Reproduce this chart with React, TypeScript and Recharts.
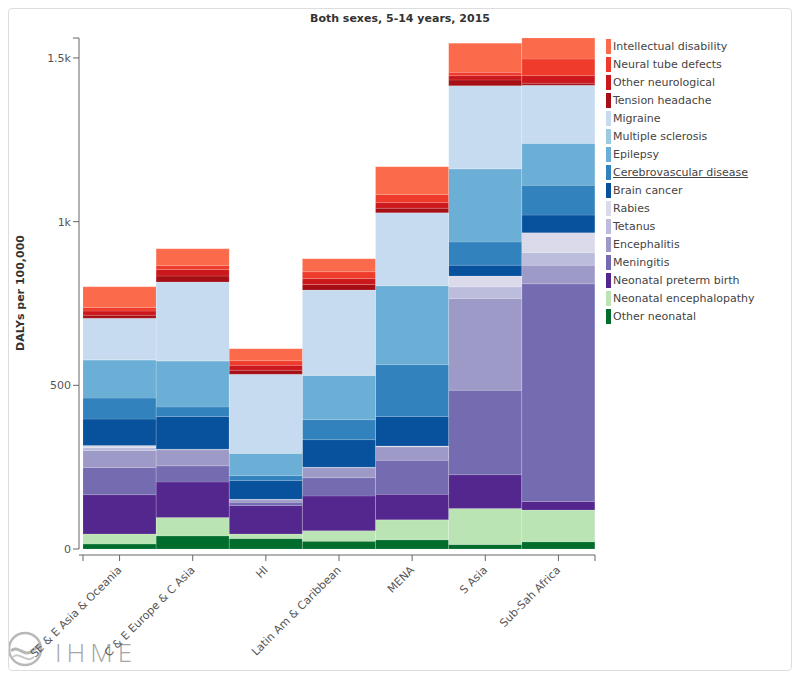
import { Bar, BarChart, Legend, XAxis, YAxis } from "recharts";

const regions = [
  "SE & E Asia & Oceania",
  "C & E Europe & C Asia",
  "HI",
  "Latin Am & Caribbean",
  "MENA",
  "S Asia",
  "Sub-Sah Africa",
];

// DALYs per 100,000, one value per region (same order as regions)
const otherNeonatal = [15, 40, 32, 24, 28, 14, 22];
const neonatalEncephalopathy = [31, 56, 14, 32, 61, 110, 97];
const neonatalPreterm = [120, 109, 87, 106, 78, 103, 26];
const meningitis = [83, 49, 10, 56, 104, 258, 665];
const encephalitis = [52, 49, 7, 30, 41, 280, 57];
const tetanus = [9, 1, 1, 1, 1, 36, 38];
const rabies = [6, 1, 1, 1, 2, 33, 61];
const brainCancer = [81, 100, 57, 84, 90, 33, 54];
const cerebrovascular = [64, 29, 15, 61, 158, 71, 91];
const epilepsy = [116, 140, 68, 135, 241, 223, 128];
const multipleSclerosis = [1, 1, 1, 1, 1, 1, 1];
const migraine = [127, 241, 241, 260, 222, 253, 177];
const tensionHeadache = [9, 18, 12, 17, 14, 18, 6];
const otherNeurological = [13, 20, 15, 18, 17, 13, 23];
const neuralTubeDefects = [11, 12, 14, 21, 25, 10, 51];
const intellectualDisability = [63, 51, 37, 40, 85, 89, 64];

const yTicks = [0, 500, 1000, 1500];

// bottom of the stack first
const series = [
  { key: "otherNeonatal", name: "Other neonatal", color: "#006d2c", values: otherNeonatal },
  { key: "neonatalEnceph", name: "Neonatal encephalopathy", color: "#bae4b3", values: neonatalEncephalopathy },
  { key: "preterm", name: "Neonatal preterm birth", color: "#54278f", values: neonatalPreterm },
  { key: "meningitis", name: "Meningitis", color: "#756bb1", values: meningitis },
  { key: "encephalitis", name: "Encephalitis", color: "#9e9ac8", values: encephalitis },
  { key: "tetanus", name: "Tetanus", color: "#bcbddc", values: tetanus },
  { key: "rabies", name: "Rabies", color: "#dadaeb", values: rabies },
  { key: "brainCancer", name: "Brain cancer", color: "#08519c", values: brainCancer },
  { key: "cerebro", name: "Cerebrovascular disease", color: "#3182bd", values: cerebrovascular },
  { key: "epilepsy", name: "Epilepsy", color: "#6baed6", values: epilepsy },
  { key: "ms", name: "Multiple sclerosis", color: "#9ecae1", values: multipleSclerosis },
  { key: "migraine", name: "Migraine", color: "#c6dbef", values: migraine },
  { key: "tension", name: "Tension headache", color: "#a50f15", values: tensionHeadache },
  { key: "otherNeuro", name: "Other neurological", color: "#cb181d", values: otherNeurological },
  { key: "ntd", name: "Neural tube defects", color: "#ef3b2c", values: neuralTubeDefects },
  { key: "intellectual", name: "Intellectual disability", color: "#fb6a4a", values: intellectualDisability },
];

const rows = regions.map((region, i) => {
  const row: Record<string, string | number> = { region };
  series.forEach((s) => (row[s.key] = s.values[i]));
  return row;
});

const totals = regions.map((_, i) => series.reduce((sum, s) => sum + s.values[i], 0));
const maxTotal = Math.max(...totals);

const FONT = "'DejaVu Sans', sans-serif";
const AXIS = "#666";

const fmtY = (v: number) => {
  if (v === maxTotal) return "";
  return v >= 1000 ? `${v / 1000}k` : `${v}`;
};

const RegionTick = (props: any) => {
  const { x, y, payload, index, visibleTicksCount } = props;
  const half = payload?.offset;
  const axisY = y - 8;
  return (
    <g>
      {index === 0 && half ? (
        <line x1={x - half} x2={x - half} y1={axisY} y2={axisY + 6} stroke={AXIS} />
      ) : null}
      {index === visibleTicksCount - 1 && half ? (
        <line x1={x + half} x2={x + half} y1={axisY} y2={axisY + 6} stroke={AXIS} />
      ) : null}
      <text
        x={x}
        y={y + 5}
        dy="0.35em"
        textAnchor="end"
        transform={`rotate(-45 ${x} ${y + 5})`}
        fontSize={11}
        fill="#555"
        fontFamily={FONT}
      >
        {payload.value}
      </text>
    </g>
  );
};

const LegendList = () => (
  <div style={{ fontFamily: FONT, fontSize: 11, color: "#444" }}>
    {[...series].reverse().map((s) => (
      <div key={s.key} style={{ display: "flex", alignItems: "center", height: 18 }}>
        <span style={{ width: 5, height: 15, background: s.color, marginRight: 2 }} />
        <span style={{ textDecoration: s.key === "cerebro" ? "underline" : "none" }}>{s.name}</span>
      </div>
    ))}
  </div>
);

const Logo = () => (
  <svg
    width={150}
    height={52}
    style={{ position: "absolute", left: -1, top: 608 }}
  >
    <circle cx={17} cy={32} r={16} fill="none" stroke="#b8b8b8" strokeWidth={2.5} />
    <path d="M3 34 C10 27, 16 41, 24 34 S 32 29, 33 31" fill="none" stroke="#b8b8b8" strokeWidth={3} />
    <path d="M5 40 C12 34, 18 47, 26 40" fill="none" stroke="#c8c8c8" strokeWidth={2} />
    <text
      x={47}
      y={45}
      fontSize={26}
      fill="#a5a5a5"
      fontFamily="'Open Sans', sans-serif"
      fontWeight={300}
      letterSpacing={5}
    >
      IHME
    </text>
  </svg>
);

export default function App() {
  return (
    <div style={{ position: "relative", width: 784, height: 663 }}>
      <div
        style={{
          position: "absolute",
          left: -8,
          top: 663,
          width: 800,
          height: 10,
          background: "#eeeeee",
        }}
      />
      <div
        style={{
          position: "relative",
          width: 782,
          height: 661,
          border: "1px solid #dddddd",
          borderRadius: 4,
          fontFamily: FONT,
          background: "#fff",
          overflow: "hidden",
        }}
      >
        <Logo />
        <div
          style={{
            position: "absolute",
            top: 3,
            left: 0,
            width: 782,
            textAlign: "center",
            fontSize: 11,
            fontWeight: "bold",
            color: "#333",
          }}
        >
          Both sexes, 5-14 years, 2015
        </div>
        <div
          style={{
            position: "absolute",
            left: 11,
            top: 284,
            transform: "translate(-50%, -50%) rotate(-90deg)",
            whiteSpace: "nowrap",
            fontSize: 11,
            fontWeight: "bold",
            color: "#333",
          }}
        >
          DALYs per 100,000
        </div>
        <BarChart
          width={782}
          height={661}
          data={rows}
          margin={{ top: 29, right: 196, bottom: 15, left: 30 }}
          barCategoryGap={0}
          barGap={0}
        >
          <XAxis
            xAxisId="bars"
            dataKey="region"
            height={6}
            axisLine={false}
            tickLine={false}
            tick={false}
            padding={{ left: 4, right: 0 }}
          />
          <XAxis
            xAxisId="labels"
            dataKey="region"
            height={100}
            padding={{ left: 4, right: 0 }}
            interval={0}
            axisLine={{ stroke: AXIS }}
            tickLine={{ stroke: AXIS }}
            tickSize={6}
            tickMargin={2}
            tick={<RegionTick />}
          />
          <YAxis
            type="number"
            domain={[0, maxTotal]}
            ticks={[...yTicks, maxTotal]}
            interval={0}
            width={40}
            tickFormatter={fmtY}
            axisLine={{ stroke: AXIS }}
            tickLine={{ stroke: AXIS }}
            tick={{ fontSize: 11, fill: "#555" }}
          />
          {series.map((s) => (
            <Bar
              key={s.key}
              dataKey={s.key}
              name={s.name}
              stackId="all"
              xAxisId="bars"
              fill={s.color}
              stroke="rgba(255,255,255,0.25)"
              strokeWidth={0.5}
              isAnimationActive={false}
            />
          ))}
          <Legend
            layout="vertical"
            align="center"
            verticalAlign="middle"
            wrapperStyle={{ left: 597, top: 28, width: 180 }}
            content={() => <LegendList />}
          />
        </BarChart>
      </div>
    </div>
  );
}
